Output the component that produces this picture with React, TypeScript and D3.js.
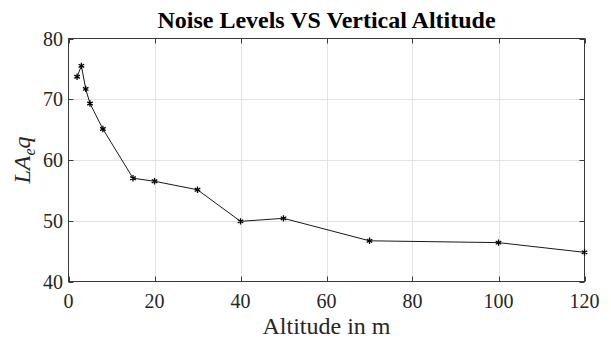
import React, { useEffect, useRef } from 'react'
import * as d3 from 'd3'

// altitude (m) and LAeq readings
const altitudes = [2, 3, 4, 5, 8, 15, 20, 30, 40, 50, 70, 100, 120]
const levels = [73.7, 75.5, 71.7, 69.3, 65.1, 57.0, 56.5, 55.1, 49.9, 50.4, 46.7, 46.4, 44.8]
const xTicks = [0, 20, 40, 60, 80, 100, 120]
const yTicks = [40, 50, 60, 70, 80]

const W = 611
const H = 338

function App() {
  const ref = useRef<SVGSVGElement>(null)

  useEffect(() => {
    const svg = d3.select(ref.current)
    svg.selectAll('*').remove()

    const left = 68.5, right = 584.5, top = 38.5, bottom = 281.5
    const x = d3.scaleLinear().domain([0, 120]).range([left, right])
    const y = d3.scaleLinear().domain([40, 80]).range([bottom, top])
    const font = "'Liberation Serif', 'Times New Roman', serif"

    svg.append('rect').attr('width', W).attr('height', H).attr('fill', '#fff')

    // grid
    const grid = svg.append('g').attr('stroke', '#e3e3e3').attr('stroke-width', 1)
    grid.selectAll('.gx').data(xTicks.slice(1, -1)).enter().append('line')
      .attr('x1', d => Math.round(x(d)) + 0.5).attr('x2', d => Math.round(x(d)) + 0.5)
      .attr('y1', top).attr('y2', bottom)
    grid.selectAll('.gy').data(yTicks.slice(1, -1)).enter().append('line')
      .attr('y1', d => Math.round(y(d)) + 0.5).attr('y2', d => Math.round(y(d)) + 0.5)
      .attr('x1', left).attr('x2', right)

    // axes box + inward ticks
    const ax = svg.append('g').attr('stroke', '#3a3a3a').attr('stroke-width', 1).attr('fill', 'none')
    ax.append('rect').attr('x', left).attr('y', top).attr('width', right - left).attr('height', bottom - top)
    xTicks.forEach(t => {
      const px = Math.round(x(t)) + 0.5
      ax.append('line').attr('x1', px).attr('x2', px).attr('y1', bottom).attr('y2', bottom - 5)
      ax.append('line').attr('x1', px).attr('x2', px).attr('y1', top).attr('y2', top + 5)
    })
    yTicks.forEach(t => {
      const py = Math.round(y(t)) + 0.5
      ax.append('line').attr('y1', py).attr('y2', py).attr('x1', left).attr('x2', left + 5)
      ax.append('line').attr('y1', py).attr('y2', py).attr('x1', right).attr('x2', right - 5)
    })

    // tick labels
    svg.append('g').selectAll('text').data(xTicks).enter().append('text')
      .attr('x', d => x(d)).attr('y', 308)
      .attr('text-anchor', 'middle')
      .style('font-family', font).style('font-size', '20px').attr('fill', '#262626')
      .text(d => d)
    svg.append('g').selectAll('text').data(yTicks).enter().append('text')
      .attr('x', 63).attr('y', d => y(d) + 7)
      .attr('text-anchor', 'end')
      .style('font-family', font).style('font-size', '20px').attr('fill', '#262626')
      .text(d => d)

    // line + asterisk markers
    const pts = altitudes.map((a, i) => [a, levels[i]] as [number, number])
    const line = d3.line<[number, number]>().x(d => x(d[0])).y(d => y(d[1]))
    svg.append('path').datum(pts).attr('d', line)
      .attr('fill', 'none').attr('stroke', '#1a1a1a').attr('stroke-width', 1)
    const star = d3.symbol().type(d3.symbolAsterisk).size(28)
    svg.append('g').selectAll('path').data(pts).enter().append('path')
      .attr('d', star)
      .attr('transform', d => `translate(${x(d[0])},${y(d[1])})`)
      .attr('fill', 'none').attr('stroke', '#000').attr('stroke-width', 1.3)

    // title and labels
    svg.append('text')
      .attr('x', (left + right) / 2).attr('y', 28)
      .attr('text-anchor', 'middle')
      .style('font-family', font).style('font-size', '24px').style('font-weight', 'bold')
      .text('Noise Levels VS Vertical Altitude')

    svg.append('text')
      .attr('x', (left + right) / 2).attr('y', 334)
      .attr('text-anchor', 'middle')
      .style('font-family', font).style('font-size', '24px').attr('fill', '#262626')
      .text('Altitude in m')

    const yl = svg.append('text')
      .attr('transform', `translate(30, ${(top + bottom) / 2}) rotate(-90)`)
      .attr('text-anchor', 'middle')
      .style('font-family', font).style('font-size', '24px').style('font-style', 'italic')
      .attr('fill', '#262626')
    yl.append('tspan').text('LA')
    yl.append('tspan').attr('dy', 5).style('font-size', '16px').text('e')
    yl.append('tspan').attr('dy', -5).text('q')
  }, [])

  return (
    <svg ref={ref} width={W} height={H} style={{ position: 'absolute', left: 0, top: 0 }} />
  )
}

export default App
